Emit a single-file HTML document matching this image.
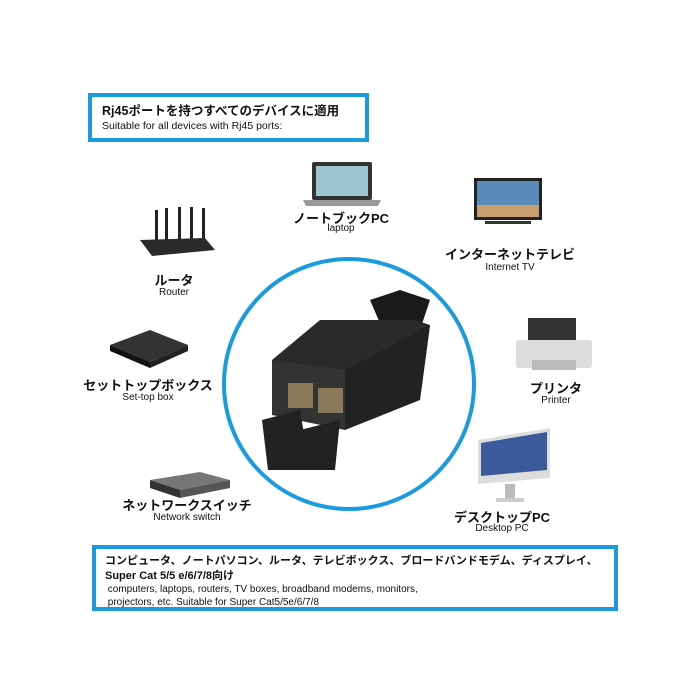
<!DOCTYPE html>
<html><head><meta charset="utf-8"><style>
body{margin:0;width:700px;height:700px;background:#fff;position:relative;overflow:hidden;font-family:"Liberation Sans","Noto Sans CJK JP",sans-serif;color:#111}
.box{position:absolute;border:4px solid #1a9be0;box-sizing:border-box;background:#fff}
.l{position:absolute;text-align:center;white-space:nowrap;transform:translateX(-50%)}
.j{font-weight:bold;font-size:13px}
.e{font-size:10px}
</style></head><body>
<div class="box" style="left:88px;top:93px;width:281px;height:49px;padding:7px 0 0 10px">
<div style="font-weight:bold;font-size:12.5px;line-height:15px;white-space:nowrap">Rj45ポートを持つすべてのデバイスに適用</div>
<div style="font-size:10.5px;line-height:15px;white-space:nowrap">Suitable for all devices with Rj45 ports:</div>
</div>
<div class="box" style="left:92px;top:545px;width:526px;height:66px;padding:4px 0 0 9px">
<div style="font-weight:bold;font-size:11px;line-height:16px;white-space:nowrap">コンピュータ、ノートパソコン、ルータ、テレビボックス、ブロードバンドモデム、ディスプレイ、</div>
<div style="font-weight:bold;font-size:11px;line-height:14px">Super Cat 5/5 e/6/7/8向け</div>
<div style="font-size:10px;line-height:13px">&nbsp;computers, laptops, routers, TV boxes, broadband modems, monitors,<br>&nbsp;projectors, etc. Suitable for Super Cat5/5e/6/7/8</div>
</div>
<svg width="700" height="700" style="position:absolute;left:0;top:0">
<circle cx="349" cy="384" r="125" fill="none" stroke="#1a9be0" stroke-width="4"/>
<path d="M370 300 L400 290 L430 300 L420 330 L385 335Z" fill="#1a1a1a"/>
<path d="M320 320 L415 320 L430 325 L420 400 L360 400 L272 380 L272 360Z" fill="#2a2a2a"/>
<path d="M272 360 L345 370 L345 430 L272 415Z" fill="#333"/>
<path d="M345 370 L430 325 L420 400 L345 430Z" fill="#222"/>
<rect x="288" y="383" width="25" height="25" fill="#8a7a5a"/><rect x="318" y="388" width="25" height="25" fill="#8a7a5a"/>
<path d="M262 420 L300 410 L310 470 L268 470Z" fill="#222"/><path d="M300 430 L340 420 L335 470 L305 470Z" fill="#222"/>
<rect x="312" y="162" width="60" height="38" rx="2" fill="#333"/><rect x="316" y="166" width="52" height="30" fill="#9ec4d0"/><path d="M303 200 L381 200 L378 206 L306 206Z" fill="#999"/>
<rect x="474" y="178" width="68" height="42" fill="#222"/><rect x="477" y="181" width="62" height="36" fill="#5a8ab8"/><rect x="477" y="205" width="62" height="12" fill="#c8a070"/><rect x="485" y="221" width="46" height="3" fill="#333"/>
<g fill="#222"><rect x="155" y="210" width="3" height="30"/><rect x="165" y="208" width="3" height="32"/><rect x="178" y="207" width="3" height="33"/><rect x="190" y="207" width="3" height="33"/><rect x="202" y="208" width="3" height="32"/></g>
<path d="M140 240 L205 238 L215 250 L152 256Z" fill="#2a2a2a"/>
<path d="M110 345 L150 330 L188 345 L150 362Z" fill="#333"/><path d="M110 345 L150 362 L150 368 L110 351Z" fill="#111"/><path d="M150 362 L188 345 L188 351 L150 368Z" fill="#222"/>
<rect x="528" y="318" width="48" height="25" fill="#333"/><rect x="516" y="340" width="76" height="28" rx="3" fill="#ddd"/><rect x="532" y="360" width="44" height="10" fill="#bbb"/>
<path d="M150 480 L200 472 L230 480 L180 490Z" fill="#777"/><path d="M150 480 L180 490 L180 498 L150 488Z" fill="#333"/><path d="M180 490 L230 480 L230 488 L180 498Z" fill="#555"/>
<path d="M478 440 L550 428 L550 478 L478 484Z" fill="#ddd"/><path d="M481 443 L547 432 L547 470 L481 476Z" fill="#3a5a9a"/><rect x="505" y="484" width="10" height="14" fill="#bbb"/><rect x="496" y="498" width="28" height="4" fill="#ccc"/>
</svg>
<div class="l j" style="left:341px;top:208px">ノートブックPC</div><div class="l e" style="left:341px;top:223px">laptop</div>
<div class="l j" style="left:510px;top:244px">インターネットテレビ</div><div class="l e" style="left:510px;top:262px">Internet TV</div>
<div class="l j" style="left:174px;top:270px">ルータ</div><div class="l e" style="left:174px;top:287px">Router</div>
<div class="l j" style="left:148px;top:375px">セットトップボックス</div><div class="l e" style="left:148px;top:392px">Set-top box</div>
<div class="l j" style="left:556px;top:378px">プリンタ</div><div class="l e" style="left:556px;top:395px">Printer</div>
<div class="l j" style="left:187px;top:495px">ネットワークスイッチ</div><div class="l e" style="left:187px;top:512px">Network switch</div>
<div class="l j" style="left:502px;top:507px">デスクトップPC</div><div class="l e" style="left:502px;top:523px">Desktop PC</div>
</body></html>
